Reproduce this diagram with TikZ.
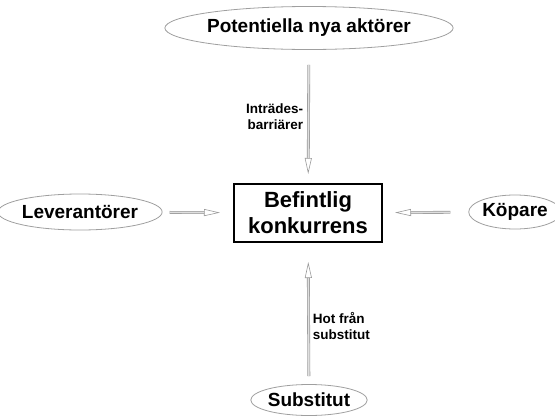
\documentclass[tikz,border=0pt]{standalone}
\usepackage{fontspec}
\setmainfont{Liberation Sans}
\usepackage{tikz}
\usetikzlibrary{positioning, shapes.geometric, arrows.meta}

\begin{document}
\begin{tikzpicture}[
    x=1pt, y=-1pt,
    % Forces around the competition box
    force/.style={
        ellipse,
        draw=gray!75,
        line width=0.8pt,
        inner sep=0pt,
        font=\fontsize{19}{22}\bfseries
    },
    rivalry/.style={
        rectangle,
        draw=black,
        line width=2pt,
        minimum width=148pt,
        minimum height=58pt,
        align=center,
        font=\fontsize{22}{26}\bfseries
    },
    push/.style={
        draw=gray!80,
        double=gray!25,
        double distance=1.6pt,
        line width=0.6pt,
        -{Triangle[open, length=16pt, width=7pt]}
    },
    note/.style={font=\fontsize{13.5}{15.5}\bfseries, inner sep=2pt}
]
\useasboundingbox (0,0) rectangle (555,418);

% Central box
\node (box) at (308,213) [rivalry] {Befintlig\\konkurrens};

% The four forces
\node (nya) at (309,28) [force, minimum width=242pt, minimum height=43pt] {Potentiella nya aktörer};
\node (lev) at (80,212) [force, minimum width=136pt, minimum height=36pt] {Leverantörer};
\node (kop) at (515,212) [force, minimum width=78pt, minimum height=34pt] {Köpare};
\node (sub) at (309,400) [force, minimum width=100pt, minimum height=31pt] {Substitut};

% Arrows towards the box
\draw[push, shorten <=15pt, shorten >=9pt] (nya) -- node[left=3pt, note, align=right] {Inträdes-\\barriärer} (box);
\draw[push, shorten <=7pt, shorten >=13pt] (lev) -- (box);
\draw[push, shorten <=18pt, shorten >=12pt] (kop) -- (box);
\draw[push, shorten <=8pt, shorten >=19pt] (sub) -- node[pos=0.41, right=2pt, note, align=left] {Hot från\\substitut} (box);
\end{tikzpicture}
\end{document}
